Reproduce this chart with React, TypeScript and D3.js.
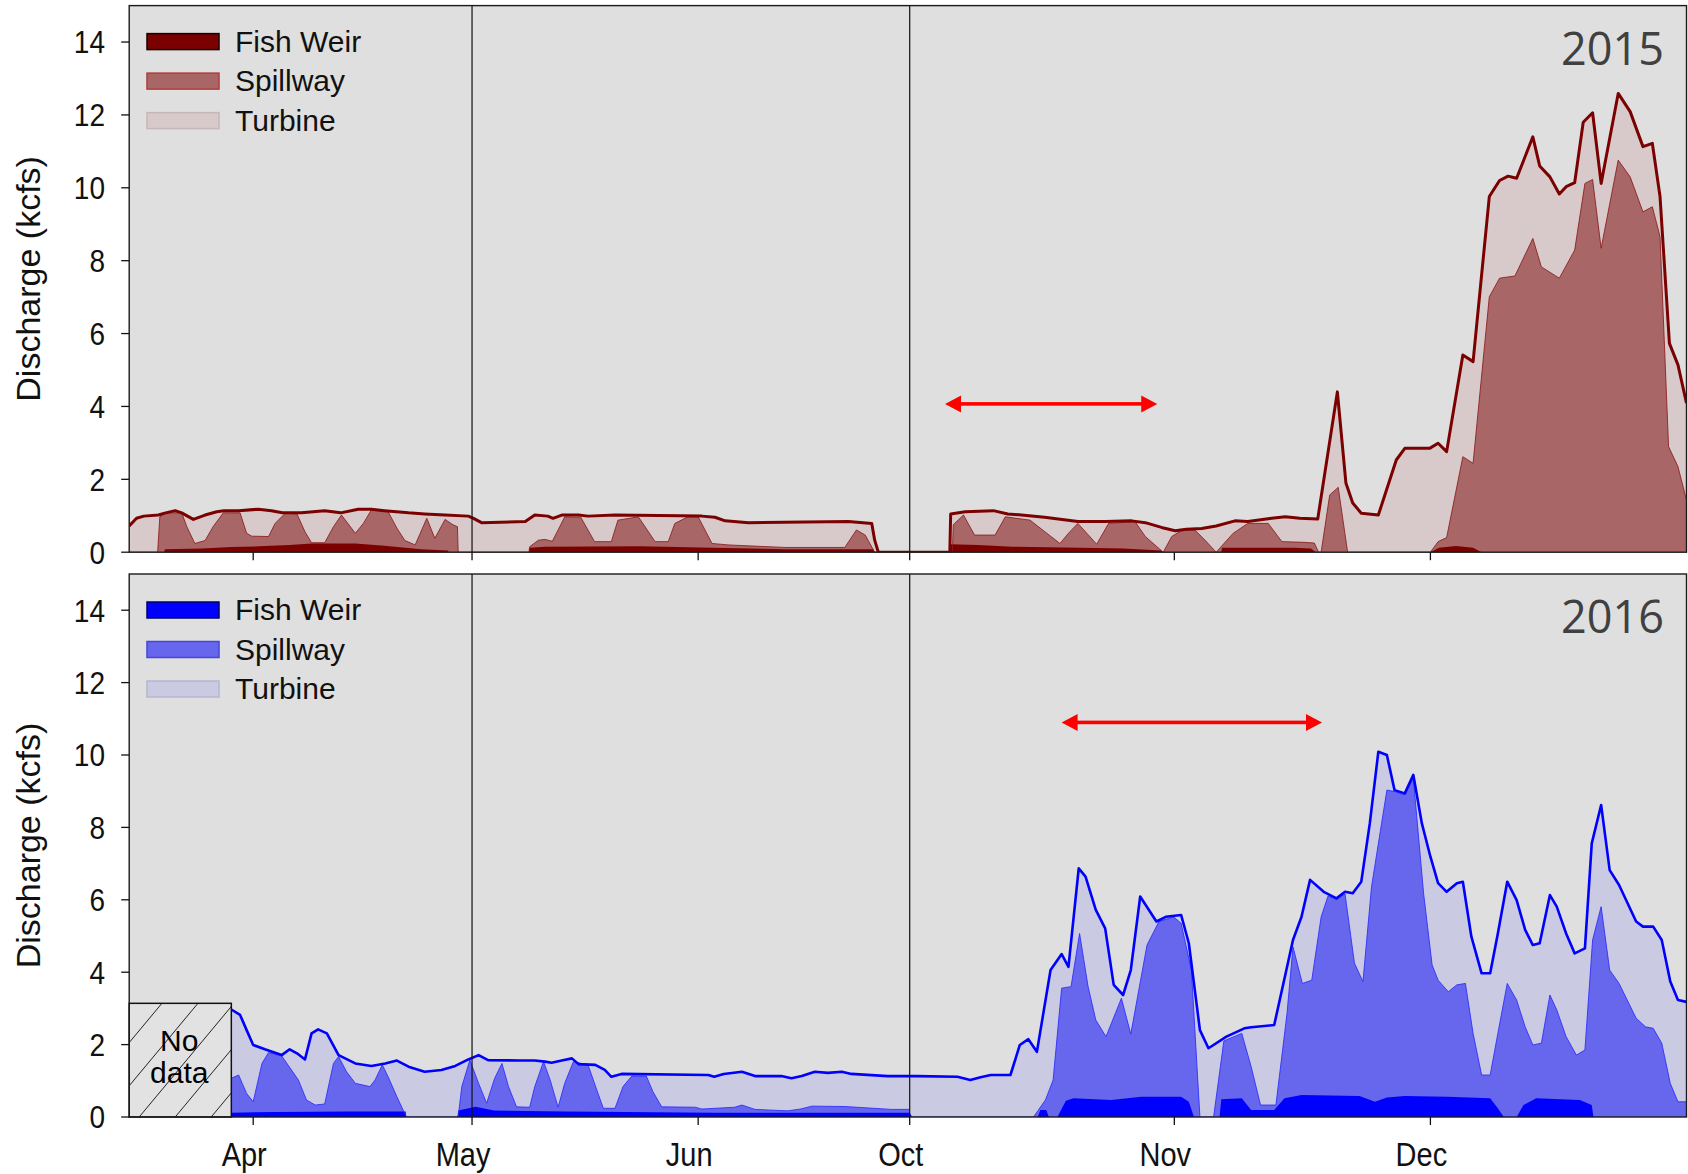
import React from "react";
import * as d3 from "d3";

type P = [number, number];

// ---- time axis (broken: Mar 15 – Jun 30, Oct 1 – Dec 31) ----
const SPRING_START = Date.UTC(2015, 2, 15);
const FALL_START = Date.UTC(2015, 9, 1);
const DAY = 86400000;
const xDomain = [
  new Date(Date.UTC(2015, 2, 15)),
  new Date(Date.UTC(2015, 5, 30)),
  new Date(Date.UTC(2015, 9, 1)),
  new Date(Date.UTC(2015, 11, 31)),
];
const xTickLabels = ["Apr", "May", "Jun", "Oct", "Nov", "Dec"];
const xTickMonths = [3, 4, 5, 9, 10, 11];
const dividerMonths = [4, 9];
const yTicks = [0, 2, 4, 6, 8, 10, 12, 14];
const seriesNames = ["Fish Weir", "Spillway", "Turbine"];

// ---- 2015 (days since Mar 15 / Oct 1, kcfs; spillway = top of spillway band) ----
const total2015Spring: P[] = [
  [0, 0.72], [1, 0.93], [2, 0.99], [4, 1.02], [5, 1.08], [6.3, 1.14], [7.2, 1.08], [8.8, 0.9], [10.4, 1.02],
  [12, 1.11], [13, 1.14], [15, 1.14], [17.7, 1.18], [19.5, 1.14], [21, 1.08], [23.6, 1.08], [26.8, 1.14],
  [29, 1.08], [31.4, 1.18], [33.2, 1.18], [35, 1.14], [38.3, 1.08], [40.5, 1.05], [43.3, 1.02], [46.5, 0.99],
  [47.2, 0.93], [48.3, 0.81], [54.3, 0.84], [55.6, 1.02], [57.4, 0.99], [58.1, 0.93], [59.3, 1.02], [61.6, 1.02],
  [62.9, 0.99], [66.6, 1.02], [78.5, 0.99], [80.3, 0.96], [81.7, 0.86], [84.9, 0.81], [98.6, 0.84], [101.8, 0.79],
  [102.2, 0.33], [102.7, 0], [107, 0],
];
const spill2015Spring: P[] = [
  [0, 0], [3.9, 0], [4.2, 0.97], [4.9, 1.08], [7.2, 1.08], [7.9, 0.7], [9, 0.24], [10.4, 0.32], [11.5, 0.7],
  [12.9, 1.08], [15.2, 1.08], [16.1, 0.52], [16.8, 0.44], [19.1, 0.43], [20, 0.79], [21.4, 1.07], [23, 1.05],
  [24.1, 0.56], [25, 0.26], [26.8, 0.26], [28, 0.7], [29.1, 1.02], [31, 0.52], [32.1, 0.79], [33.2, 1.16],
  [35.5, 1.11], [36.7, 0.66], [37.8, 0.32], [39.2, 0.2], [40.8, 0.93], [41.9, 0.38], [43.3, 0.9], [44.4, 0.75],
  [45, 0.7], [45.1, 0], [54.8, 0], [54.9, 0.15], [56.1, 0.33], [57, 0.35], [58, 0.3], [58.8, 0.61], [59.7, 0.97],
  [61.9, 0.96], [63.8, 0.29], [66.1, 0.29], [67, 0.88], [69.8, 0.97], [72.1, 0.29], [73.9, 0.29], [74.8, 0.79],
  [76.6, 0.97], [78, 0.97], [79.9, 0.24], [82.1, 0.2], [89.9, 0.13], [98.1, 0.13], [99.7, 0.61], [100.9, 0.47],
  [102.2, 0], [107, 0],
];
const fish2015Spring: P[] = [
  [0, 0], [4.8, 0], [4.9, 0.08], [10, 0.1], [14, 0.14], [17.7, 0.16], [22, 0.2], [25, 0.24], [31, 0.24],
  [35, 0.18], [40, 0.08], [43.7, 0.05], [43.8, 0], [54.8, 0], [54.9, 0.12], [57, 0.15], [70, 0.16], [80, 0.12],
  [90, 0.08], [102, 0.08], [102.2, 0], [107, 0],
];
const total2015Fall: P[] = [
  [0, 0], [4.7, 0], [4.8, 1.05], [6.5, 1.11], [9.8, 1.14], [11.5, 1.05], [13.1, 1.02], [15.8, 0.96], [19.7, 0.84],
  [22.9, 0.84], [26, 0.86], [27.6, 0.81], [29.5, 0.68], [31.1, 0.59], [32.4, 0.63], [34.2, 0.65], [35.9, 0.72],
  [38.1, 0.86], [39.6, 0.84], [42.4, 0.93], [44, 0.97], [45.7, 0.93], [47.8, 0.91], [50.1, 4.4], [51.1, 1.9],
  [51.9, 1.35], [52.9, 1.07], [54.9, 1.02], [57, 2.53], [58, 2.85], [60.9, 2.85], [61.9, 2.99], [62.9, 2.76],
  [64.8, 5.41], [66, 5.23], [67.9, 9.76], [69.1, 10.2], [70.1, 10.32], [71.1, 10.26], [73, 11.4], [73.8, 10.6],
  [75, 10.3], [76.1, 9.83], [76.9, 10.03], [77.9, 10.14], [78.9, 11.8], [80, 12.06], [81, 10.12], [83, 12.59],
  [84.4, 12.09], [85.9, 11.13], [87, 11.22], [87.9, 9.76], [89, 5.73], [90, 5.14], [91, 4.09],
];
const spill2015Fall: P[] = [
  [0, 0], [5, 0], [5.1, 0.75], [6.3, 1.02], [7.6, 0.47], [10, 0.47], [11.2, 0.97], [14.1, 0.88], [17.6, 0.24],
  [18.6, 0.52], [19.7, 0.79], [21.9, 0.22], [23.3, 0.79], [26.4, 0.84], [27.6, 0.43], [29.7, 0], [30.7, 0.43],
  [31.8, 0.59], [33.4, 0.61], [34.6, 0.33], [35.9, 0], [37.9, 0.52], [39.6, 0.79], [42, 0.79], [43.6, 0.29],
  [46.3, 0.27], [47.4, 0.25], [47.9, 0], [48.2, 0], [49.2, 1.57], [50.2, 1.78], [51.3, 0], [61, 0], [61.9, 0.29],
  [62.9, 0.4], [64.8, 2.62], [66, 2.44], [67.9, 7.01], [69.1, 7.52], [70.9, 7.58], [73, 8.61], [74, 7.83],
  [76.1, 7.52], [77.9, 8.29], [79.1, 10.12], [80, 10.23], [81, 8.34], [83, 10.76], [84.4, 10.3], [85.9, 9.34],
  [87, 9.48], [87.9, 8.66], [88.9, 2.9], [90, 2.35], [91, 1.43],
];
const fish2015Fall: P[] = [
  [0, 0], [4.7, 0], [4.8, 0.22], [8, 0.2], [12, 0.15], [20, 0.12], [25, 0.1], [29.5, 0.05], [29.6, 0], [36.5, 0],
  [36.6, 0.12], [45, 0.12], [47, 0.1], [47.6, 0], [61, 0], [62, 0.12], [64, 0.17], [66, 0.12], [67, 0], [91, 0],
];

// ---- 2016 ----
const total2016Spring: P[] = [
  [14, 2.97], [15.2, 2.82], [16.1, 2.4], [17, 1.99], [18.6, 1.87], [20.9, 1.71], [22, 1.87], [23, 1.76],
  [24.1, 1.59], [25, 2.31], [25.9, 2.42], [27.1, 2.31], [28.7, 1.71], [31, 1.48], [33.2, 1.41], [35.1, 1.48],
  [36.7, 1.56], [38.3, 1.39], [40.5, 1.25], [42.8, 1.3], [44.7, 1.41], [46.5, 1.59], [47.9, 1.71], [49.2, 1.57],
  [53.6, 1.56], [55.6, 1.56], [57, 1.53], [57.9, 1.5], [59.3, 1.56], [60.7, 1.62], [61.6, 1.46], [63.9, 1.44],
  [65.2, 1.3], [66.1, 1.11], [67.5, 1.19], [79.4, 1.16], [80.2, 1.11], [81.5, 1.19], [84, 1.25], [85.8, 1.13],
  [89.4, 1.13], [90.8, 1.07], [92.2, 1.13], [94, 1.25], [95.8, 1.22], [97.7, 1.25], [99, 1.19], [104, 1.13],
  [107, 1.13],
];
const spill2016Spring: P[] = [
  [14, 1.07], [15, 1.16], [16.1, 0.65], [17, 0.42], [18.2, 1.48], [19.1, 1.78], [20.9, 1.69], [23.2, 1.02],
  [24.3, 0.47], [25.5, 0.33], [26.8, 0.36], [28, 1.48], [28.7, 1.67], [29.8, 1.25], [31, 0.93], [33, 0.84],
  [33.7, 1.02], [34.7, 1.44], [35.5, 1.11], [36.7, 0.56], [38, 0], [45.1, 0], [45.6, 0.84], [46.7, 1.57],
  [47.9, 0.93], [49, 0.38], [50.1, 1.07], [51.1, 1.48], [52, 0.84], [53.1, 0.28], [54.9, 0.27], [55.6, 0.84],
  [56.8, 1.53], [57.7, 1.03], [58.8, 0.27], [59.7, 0.93], [60.9, 1.53], [62.9, 1.44], [64.1, 0.75], [65, 0.24],
  [66.6, 0.24], [67.7, 0.84], [68.9, 1.13], [70.9, 1.13], [71.8, 0.7], [73, 0.28], [77.6, 0.27], [78.5, 0.22],
  [83, 0.27], [84, 0.33], [85.8, 0.21], [90.3, 0.17], [92, 0.22], [93.6, 0.3], [98.1, 0.29], [104.5, 0.21],
  [107, 0.21],
];
const fish2016Spring: P[] = [
  [14, 0.12], [20, 0.14], [30, 0.15], [37.9, 0.15], [38, 0], [45, 0], [45.1, 0.18], [47.5, 0.28], [50, 0.18],
  [60, 0.15], [80, 0.12], [107, 0.12],
];
const total2016Fall: P[] = [
  [0, 1.13], [0.9, 1.13], [5.6, 1.11], [7.1, 1.02], [8.3, 1.1], [9.5, 1.16], [11.8, 1.16], [12.9, 1.99],
  [13.9, 2.15], [14.9, 1.8], [16.5, 4.06], [17.8, 4.5], [18.6, 4.15], [19.8, 6.87], [20.6, 6.64], [21.8, 5.72],
  [22.9, 5.21], [23.9, 3.65], [25, 3.37], [25.9, 4.06], [27, 6.09], [28.9, 5.4], [30, 5.53], [31.8, 5.58],
  [32.7, 4.8], [34, 2.4], [35, 1.9], [37.1, 2.22], [39.2, 2.45], [40, 2.48], [42.7, 2.54], [44.9, 4.89],
  [45.9, 5.53], [46.9, 6.55], [48.5, 6.22], [50, 6.04], [51, 6.22], [51.9, 6.18], [52.9, 6.5], [53.9, 8.11],
  [54.9, 10.09], [55.9, 10], [56.8, 9.03], [58, 8.94], [59, 9.45], [60, 8.11], [61, 7.19], [61.9, 6.46],
  [62.9, 6.22], [64.1, 6.46], [64.8, 6.5], [65.8, 4.98], [67, 3.97], [68, 3.97], [68.9, 5.07], [70, 6.5],
  [71.1, 5.99], [72.1, 5.17], [73, 4.75], [73.8, 4.8], [75, 6.13], [75.8, 5.81], [76.9, 5.07], [77.9, 4.52],
  [79.1, 4.66], [79.9, 7.56], [81, 8.62], [82, 6.82], [83.1, 6.41], [85.1, 5.4], [85.9, 5.26], [87.1, 5.26],
  [88.1, 4.89], [89.1, 3.74], [90, 3.23], [91, 3.18],
];
const spill2016Fall: P[] = [
  [0, 0], [14.5, 0], [15.9, 0.47], [16.8, 1.02], [17.8, 3.56], [18.9, 3.6], [19.9, 5.07], [20.9, 3.6],
  [21.8, 2.68], [23, 2.22], [24.8, 3.28], [25.9, 2.29], [27.8, 4.75], [29.2, 5.4], [30.9, 5.53], [31.8, 5.35],
  [33, 4.06], [34, 0], [35.6, 0], [36.8, 2.1], [38.9, 2.31], [40, 1.39], [41.1, 0.33], [42.9, 0.33], [44.2, 2.86],
  [44.9, 4.7], [46, 3.69], [47.1, 3.78], [48.2, 5.53], [49, 6.1], [50, 6.02], [51, 6.16], [52.1, 4.25],
  [53.1, 3.74], [54.1, 6.36], [55.9, 9.03], [56.8, 8.99], [58, 8.9], [59, 9.36], [60.2, 6.18], [61.2, 4.2],
  [61.9, 3.78], [63.1, 3.46], [64.1, 3.65], [65.1, 3.69], [66, 2.31], [67, 1.16], [68, 1.16], [68.9, 2.31],
  [70, 3.69], [71.1, 3.23], [72.1, 2.49], [73, 1.99], [74, 2.04], [75, 3.37], [75.8, 2.96], [76.9, 2.22],
  [78.1, 1.71], [79.1, 1.85], [80, 4.89], [81, 5.81], [82, 4.06], [83.1, 3.69], [85.1, 2.73], [86.2, 2.49],
  [87.1, 2.45], [88.1, 2.04], [89.1, 0.93], [90, 0.42], [91, 0.42],
];
const fish2016Fall: P[] = [
  [0, 0.12], [0.3, 0], [15, 0], [15.3, 0.19], [16, 0.19], [16.3, 0], [17.3, 0], [18.3, 0.45], [19.2, 0.52],
  [23.6, 0.47], [27.1, 0.56], [31.8, 0.56], [32.7, 0.42], [33.3, 0], [36.3, 0], [36.5, 0.49], [38.9, 0.52],
  [40, 0.19], [42.7, 0.19], [43.9, 0.52], [45.9, 0.61], [52.7, 0.58], [54.5, 0.42], [55.9, 0.54], [58, 0.58],
  [63, 0.56], [68, 0.52], [68.9, 0.24], [69.6, 0], [71.1, 0], [71.9, 0.33], [73.4, 0.52], [78.5, 0.47],
  [79.9, 0.33], [80.1, 0], [91, 0],
];

// annotations
const arrow2015Days = [4.14, 29.0];
const arrow2015Level = 4.07;
const arrow2016Days = [17.8, 48.3];
const arrow2016Level = 10.9;
const noData2016Days = [0, 14];
const noData2016Top = 3.14;

const FONT = "'Liberation Sans', Arial, sans-serif";

const x = d3.scaleUtc().domain(xDomain).range([129.2, 909.7, 909.7, 1686.5]);
const PLOT_L = 129.2;
const PLOT_R = 1686.5;

const sd = (d: number) => x(new Date(SPRING_START + d * DAY));
const fd = (d: number) => x(new Date(FALL_START + d * DAY));

type Colors = {
  fw: string; fwStroke: string; sp: string; spStroke: string; spLine: string;
  tu: string; tuStroke: string; total: string; totalW: number;
};

const red: Colors = {
  fw: "#7b0000", fwStroke: "#1a0000", sp: "#a86666", spStroke: "#b03c3c", spLine: "#8a1c1c",
  tu: "#d8cacb", tuStroke: "#c6b6b7", total: "#7b0000", totalW: 3,
};
const blue: Colors = {
  fw: "#0000ff", fwStroke: "#00006a", sp: "#6767ee", spStroke: "#4646d8", spLine: "#2a2aff",
  tu: "#cacae2", tuStroke: "#b6b6d0", total: "#0000ff", totalW: 2.6,
};

type PanelProps = {
  id: string; top: number; bottom: number; year: string; colors: Colors;
  springTotal: P[]; springSpill: P[]; springFish: P[];
  fallTotal: P[]; fallSpill: P[]; fallFish: P[];
  arrowDays: number[]; arrowLevel: number; showLabels: boolean; noData?: boolean;
};

function Panel(p: PanelProps) {
  const y = d3.scaleLinear().domain([0, 15]).range([p.bottom, p.top]);
  const c = p.colors;
  const mk = (fx: (d: number) => number) => ({
    area: d3.area<P>().x((d) => fx(d[0])).y0(y(0)).y1((d) => y(d[1])),
    line: d3.line<P>().x((d) => fx(d[0])).y((d) => y(d[1])),
  });
  const s = mk(sd);
  const f = mk(fd);
  const segs = [
    { g: s, t: p.springTotal, sp: p.springSpill, fw: p.springFish },
    { g: f, t: p.fallTotal, sp: p.fallSpill, fw: p.fallFish },
  ];
  const ax1 = fd(p.arrowDays[0]);
  const ax2 = fd(p.arrowDays[1]);
  const ay = y(p.arrowLevel);
  const hl = 16, hw = 8.5, sw = 3.6;
  const midY = (p.top + p.bottom) / 2;

  let noData = null;
  if (p.noData) {
    const bx0 = sd(noData2016Days[0]);
    const bx1 = sd(noData2016Days[1]);
    const by0 = y(noData2016Top);
    const by1 = y(0);
    const h = by1 - by0;
    const slope = 1.2;
    const step = 36;
    const lines = [];
    for (let k = -5; k < 8; k++) {
      const xa = bx0 + 10 + k * step;
      lines.push(<line key={k} x1={xa} y1={by1} x2={xa + h / slope} y2={by0} stroke="#222" strokeWidth={1} />);
    }
    noData = (
      <g>
        <clipPath id={p.id + "nd"}>
          <rect x={bx0} y={by0} width={bx1 - bx0} height={h} />
        </clipPath>
        <rect x={bx0} y={by0} width={bx1 - bx0} height={h} fill="#e2e2e2" />
        <g clipPath={`url(#${p.id}nd)`}>{lines}</g>
        <rect x={bx0} y={by0} width={bx1 - bx0} height={h} fill="none" stroke="#111" strokeWidth={1.5} />
        <text x={(bx0 + bx1) / 2 - 1} y={by0 + 48} textAnchor="middle" fontSize={30} fontFamily={FONT} fill="#000">No</text>
        <text x={(bx0 + bx1) / 2 - 1} y={by0 + 80} textAnchor="middle" fontSize={30} fontFamily={FONT} fill="#000">data</text>
      </g>
    );
  }

  const legendItems = [
    { name: seriesNames[0], fill: c.fw, stroke: c.fwStroke },
    { name: seriesNames[1], fill: c.sp, stroke: c.spStroke },
    { name: seriesNames[2], fill: c.tu, stroke: c.tuStroke },
  ];

  return (
    <g>
      <clipPath id={p.id + "clip"}>
        <rect x={PLOT_L} y={p.top} width={PLOT_R - PLOT_L} height={p.bottom - p.top} />
      </clipPath>
      <rect x={PLOT_L} y={p.top} width={PLOT_R - PLOT_L} height={p.bottom - p.top} fill="#dfdfdf" />
      <g clipPath={`url(#${p.id}clip)`}>
        {segs.map((sg, i) => (
          <g key={i}>
            <path d={sg.g.area(sg.t) || ""} fill={c.tu} />
            <path d={sg.g.area(sg.sp) || ""} fill={c.sp} />
            <path d={sg.g.area(sg.fw) || ""} fill={c.fw} />
            <path d={sg.g.line(sg.sp) || ""} fill="none" stroke={c.spLine} strokeWidth={1} strokeOpacity={0.85} />
            <path d={sg.g.line(sg.t) || ""} fill="none" stroke={c.total} strokeWidth={c.totalW} strokeLinejoin="round" />
          </g>
        ))}
      </g>
      {noData}
      {dividerMonths.map((m) => {
        const xx = x(new Date(Date.UTC(2015, m, 1)));
        return <line key={m} x1={xx} x2={xx} y1={p.top} y2={p.bottom} stroke="#111" strokeWidth={1.2} />;
      })}
      <rect x={PLOT_L} y={p.top} width={PLOT_R - PLOT_L} height={p.bottom - p.top} fill="none" stroke="#1a1a1a" strokeWidth={1.4} />
      {/* y ticks */}
      {yTicks.map((v) => (
        <g key={v}>
          <line x1={PLOT_L - 8} x2={PLOT_L} y1={y(v)} y2={y(v)} stroke="#111" strokeWidth={1.3} />
          <text transform={`translate(105,${y(v)}) scale(1,1.13)`} dy="0.36em" textAnchor="end" fontSize={28} fontFamily={FONT} fill="#111">{v}</text>
        </g>
      ))}
      {/* x ticks */}
      {xTickMonths.map((m, i) => {
        const xx = x(new Date(Date.UTC(2015, m, 1)));
        return (
          <g key={m}>
            <line x1={xx} x2={xx} y1={p.bottom} y2={p.bottom + 8} stroke="#111" strokeWidth={1.3} />
            {p.showLabels && (
              <text transform={`translate(${xx - 9},${p.bottom + 49}) scale(1,1.13)`} textAnchor="middle" fontSize={29} fontFamily={FONT} fill="#111">{xTickLabels[i]}</text>
            )}
          </g>
        );
      })}
      <text transform={`translate(40,${midY}) rotate(-90)`} textAnchor="middle" fontSize={34} fontFamily={FONT} fill="#111">Discharge (kcfs)</text>
      {/* legend */}
      {legendItems.map((it, i) => (
        <g key={it.name}>
          <rect x={147} y={p.top + 28 + i * 39.5} width={72} height={16} fill={it.fill} stroke={it.stroke} strokeWidth={1.5} />
          <text x={235} y={p.top + 46 + i * 39.5} fontSize={30} fontFamily={FONT} fill="#111">{it.name}</text>
        </g>
      ))}
      <text x={1664} y={p.top + 59} textAnchor="end" fontSize={45} fontFamily="'Open Sans', 'Noto Sans', sans-serif" fill="#404040">{p.year}</text>
      {/* arrow */}
      <g fill="#ff0000">
        <rect x={ax1 + hl - 1} y={ay - sw / 2} width={ax2 - ax1 - 2 * hl + 2} height={sw} />
        <polygon points={`${ax1},${ay} ${ax1 + hl},${ay - hw} ${ax1 + hl},${ay + hw}`} />
        <polygon points={`${ax2},${ay} ${ax2 - hl},${ay - hw} ${ax2 - hl},${ay + hw}`} />
      </g>
    </g>
  );
}

export default function App() {
  return (
    <svg width={1688} height={1174} style={{ position: "absolute", left: 0, top: 0, background: "#fff" }}>
      <rect x={0} y={0} width={1688} height={1174} fill="#fff" />
      <Panel
        id="p15" top={5.6} bottom={552.2} year="2015" colors={red}
        springTotal={total2015Spring} springSpill={spill2015Spring} springFish={fish2015Spring}
        fallTotal={total2015Fall} fallSpill={spill2015Fall} fallFish={fish2015Fall}
        arrowDays={arrow2015Days} arrowLevel={arrow2015Level} showLabels={false}
      />
      <Panel
        id="p16" top={574} bottom={1117} year="2016" colors={blue}
        springTotal={total2016Spring} springSpill={spill2016Spring} springFish={fish2016Spring}
        fallTotal={total2016Fall} fallSpill={spill2016Fall} fallFish={fish2016Fall}
        arrowDays={arrow2016Days} arrowLevel={arrow2016Level} showLabels={true} noData
      />
    </svg>
  );
}
